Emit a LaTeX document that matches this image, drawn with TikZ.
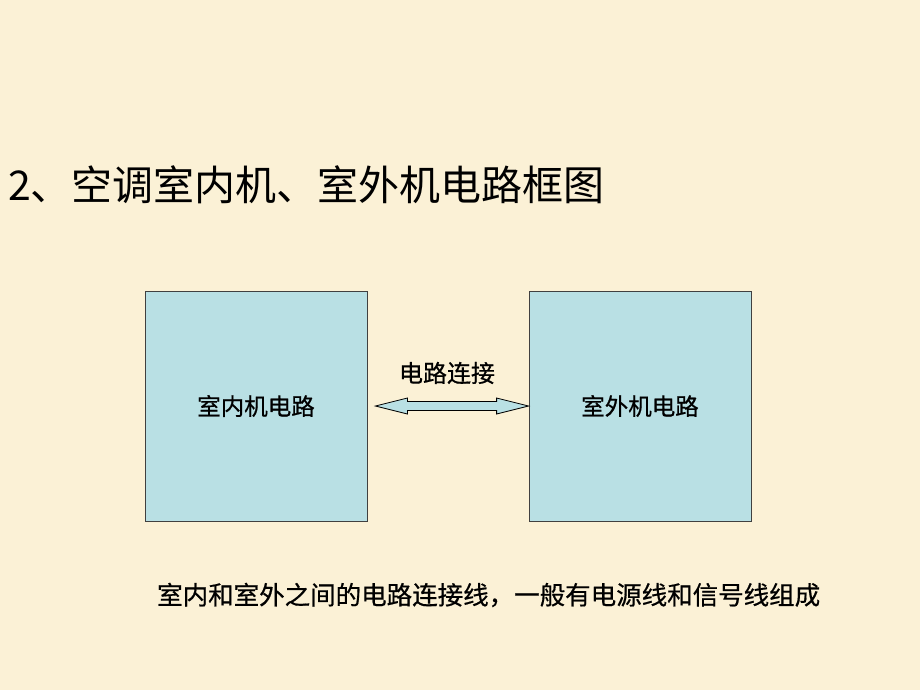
\documentclass[tikz,border=0pt]{standalone}
\usepackage{fontspec}
\newfontfamily\cjk{Noto Sans CJK SC}
\newfontfamily\cjkheavy[FakeBold=0.6]{Noto Sans CJK SC}
\usetikzlibrary{calc,positioning}
\definecolor{paper}{RGB}{251,241,214}
\definecolor{boxfill}{RGB}{185,224,228}
\definecolor{boxline}{RGB}{64,64,64}

\begin{document}
\begin{tikzpicture}[x=1pt,y=-1pt,
	  every node/.style={align=center,text=black,inner sep=0pt},
	  unit/.style={draw=boxline,fill=boxfill,line width=0.8pt,minimum width=222pt,minimum height=230pt,font=\cjkheavy\fontsize{23.5}{28}\selectfont},
	  caption/.style={font=\cjkheavy\fontsize{24}{28}\selectfont},
	  heading/.style={font=\cjk\fontsize{41}{48}\selectfont},
	  link/.style={draw=black,fill=boxfill,line width=0.8pt,line join=miter}]

	  % Page background
	  \fill[paper] (0,0) rectangle (920,690);

	  \node[heading,anchor=west] (title) at (8,185) {2、空调室内机、室外机电路框图};

	  % The two units
	  \node[unit] (indoor) at (256,406) {室内机电路};
	  \node[unit] (outdoor) at (640,406) {室外机电路};

	  \node[caption] (linklabel) at (447,373) {电路连接};

	  % Wide double arrow between the units
	  \draw[link] ($(indoor.east)+(8,0)$) -- ++(32,-8) -- ++(0,3.5) -- ($(outdoor.west)+(-32,-4.5)$) -- ++(0,-3.5) -- (outdoor.west)
	    -- ++(-32,8) -- ++(0,-3.5) -- ($(indoor.east)+(40,4.5)$) -- ++(0,3.5) -- cycle;

	  \node[caption,font=\cjkheavy\fontsize{25.5}{30}\selectfont,anchor=west] (note) at (157,595) {室内和室外之间的电路连接线，一般有电源线和信号线组成};
\end{tikzpicture}
\end{document}
